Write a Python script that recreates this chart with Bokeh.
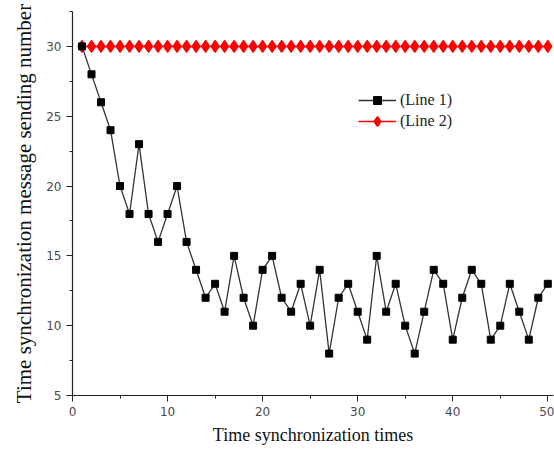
from bokeh.plotting import figure
from bokeh.models import SingleIntervalTicker, Range1d, Legend, LegendItem
from bokeh.embed import file_html
from bokeh.resources import INLINE

# Data
x_vals = list(range(1, 51))
line1 = [30, 28, 26, 24, 20, 18, 23, 18, 16, 18,
         20, 16, 14, 12, 13, 11, 15, 12, 10, 14,
         15, 12, 11, 13, 10, 14, 8, 12, 13, 11,
         9, 15, 11, 13, 10, 8, 11, 14, 13, 9,
         12, 14, 13, 9, 10, 13, 11, 9, 12, 13]
line2 = [30] * 50
series_names = ["(Line 1)", "(Line 2)"]
x_title = "Time synchronization times"
y_title = "Time synchronization message sending number"

p = figure(width=554, height=447, output_backend="svg", toolbar_location=None,
           x_range=Range1d(0, 50.6), y_range=Range1d(5, 32.5),
           min_border_left=72, min_border_right=1, min_border_top=11, min_border_bottom=52)
p.outline_line_color = None
p.xgrid.grid_line_color = None
p.ygrid.grid_line_color = None
p.background_fill_color = "white"
p.border_fill_color = "white"

r2l = p.line(x_vals, line2, line_color="#ff0000", line_width=1.5)
r2m = p.scatter(x_vals, line2, marker="diamond", size=10, fill_color="#ff0000",
                line_color="#ff0000", line_width=2.5, line_join="round")
r1l = p.line(x_vals, line1, line_color="#333333", line_width=1.3)
r1m = p.scatter(x_vals, line1, marker="square", size=7, fill_color="black", line_color="black")

for ax, interval in ((p.xaxis[0], 10), (p.yaxis[0], 5)):
    ax.ticker = SingleIntervalTicker(interval=interval, num_minor_ticks=2)
    ax.axis_line_color = "#222222"
    ax.axis_line_width = 1.2
    ax.major_tick_line_color = "#222222"
    ax.minor_tick_line_color = "#222222"
    ax.major_tick_out = 6
    ax.major_tick_in = 0
    ax.minor_tick_out = 3
    ax.minor_tick_in = 0
    ax.major_label_text_font = "DejaVu Sans"
    ax.major_label_text_font_size = "12px"
    ax.major_label_text_color = "#4a4a4a"
    ax.axis_label_text_font = "Liberation Serif"
    ax.axis_label_text_font_style = "normal"
    ax.axis_label_text_color = "#111111"

p.xaxis.axis_label = x_title
p.yaxis.axis_label = y_title
p.xaxis.axis_label_text_font_size = "18px"
p.yaxis.axis_label_text_font_size = "21px"
p.xaxis.major_label_standoff = 5
p.xaxis.axis_label_standoff = 6
p.yaxis.major_label_standoff = 5
p.yaxis.axis_label_standoff = 7

legend = Legend(items=[LegendItem(label=series_names[0], renderers=[r1l, r1m]),
                       LegendItem(label=series_names[1], renderers=[r2l, r2m])],
                location=(286, 264))
legend.border_line_color = None
legend.background_fill_alpha = 0
legend.padding = 0
legend.margin = 0
legend.spacing = 1
legend.glyph_width = 38
legend.glyph_height = 20
legend.label_height = 20
legend.label_standoff = 4
legend.label_text_font = "Liberation Serif"
legend.label_text_font_size = "16px"
legend.label_text_color = "#222222"
p.add_layout(legend, "center")

open("out.html", "w").write(file_html(p, INLINE))
